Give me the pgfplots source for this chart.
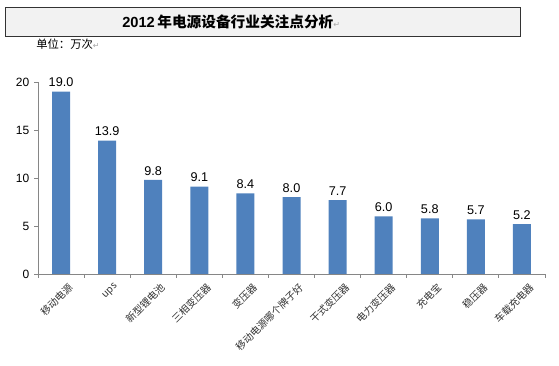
\documentclass[border=0pt]{standalone}
\usepackage{pgfplots}
\pgfplotsset{compat=1.18}
\usepackage{fontspec}
\setmainfont{Liberation Sans}
\newfontfamily\cjk{Noto Sans CJK SC}
\newfontfamily\sym{DejaVu Sans}
\definecolor{barblue}{HTML}{4F81BD}
\definecolor{axgray}{HTML}{868686}
\newcommand{\px}{0.75pt}
\begin{document}
\begin{tikzpicture}
\path[use as bounding box] (-38*\px,-92*\px) rectangle (521*\px,274*\px);
% title box
\draw[line width=1*\px, draw=black!80, fill=black!5] (-33*\px,237*\px) rectangle (482*\px,266*\px);
\node[anchor=west, inner sep=0pt, font=\bfseries\fontsize{11}{13}\selectfont] at (84*\px,252*\px)
  {2012\,{\cjk\bfseries 年电源设备行业关注点分析}{\sym\mdseries\color{black!35}\fontsize{6}{7}\selectfont ↵}};
\node[anchor=west, inner sep=0pt, font=\fontsize{8.5}{10}\selectfont] at (-2*\px,230*\px)
  {{\cjk 单位：万次}{\sym\color{black!35}\fontsize{6}{7}\selectfont ↵}};
\begin{axis}[
  at={(0,0)}, anchor=south west,
  scale only axis,
  width=507*\px, height=192*\px,
  xmin=-0.5, xmax=10.5, ymin=0, ymax=20,
  axis x line=bottom, axis y line=left,
  axis line style={-, draw=axgray, line width=0.9*\px},
  ytick={0,5,10,15,20},
  yticklabel style={font=\fontsize{9}{10}\selectfont, text=black},
  /pgf/number format/assume math mode=true,
  xtick={0,...,10},
  xticklabels={移动电源,ups,新型锂电池,三相变压器,变压器,移动电源哪个牌子好,干式变压器,电力变压器,充电宝,稳压器,车载充电器},
  xticklabel style={font=\cjk\fontsize{7.5}{8}\selectfont, text=black!80, rotate=45, anchor=north east, inner sep=1pt, xshift=3*\px, yshift=-6*\px},
  major x tick style={draw=none},
  minor xtick={-0.5,0.5,...,10.5},
  minor x tick style={draw=axgray, line width=0.9*\px},
  tick align=outside,
  major tick length=4*\px, minor tick length=4*\px,
  ytick style={draw=axgray, line width=0.9*\px},
  ybar, bar width=18*\px,
  nodes near coords,
  every node near coord/.append style={font=\fontsize{9.5}{10}\selectfont, text=black, /pgf/number format/fixed, /pgf/number format/fixed zerofill, /pgf/number format/precision=1},
  clip=false,
]
\addplot[fill=barblue, draw=none] coordinates {
(0,19.0) (1,13.9) (2,9.8) (3,9.1) (4,8.4) (5,8.0) (6,7.7) (7,6.0) (8,5.8) (9,5.7) (10,5.2)};
\end{axis}
\end{tikzpicture}
\end{document}
